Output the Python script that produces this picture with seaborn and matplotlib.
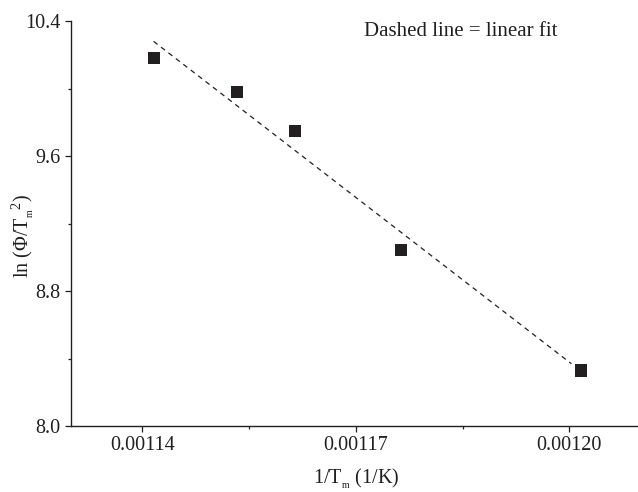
import numpy as np
import pandas as pd
import seaborn as sns
import matplotlib
matplotlib.use('Agg')
import matplotlib.pyplot as plt
from matplotlib.ticker import MultipleLocator, FormatStrFormatter

# 数据
inv_tm = [0.0011416, 0.0011533, 0.0011615, 0.0011764, 0.0012017]
ln_phi_tm2 = [10.179, 9.981, 9.748, 9.043, 8.329]
fit_range = [0.0011416, 0.0012003]
x_ticks = [0.00114, 0.00117, 0.00120]
y_ticks = [8.0, 8.8, 9.6, 10.4]

df = pd.DataFrame({'x': inv_tm, 'y': ln_phi_tm2})

sns.set_theme(style="ticks")
plt.rcParams['font.family'] = ['Liberation Serif', 'DejaVu Serif']
plt.rcParams['mathtext.fontset'] = 'custom'
plt.rcParams['mathtext.rm'] = 'Liberation Serif'
plt.rcParams['mathtext.it'] = 'Liberation Serif:italic'

fig = plt.figure(figsize=(6.38, 4.92), dpi=100)
ax = fig.add_axes([0.1113, 0.1341, 0.8926, 0.8232])

# 线性拟合
k, b = np.polyfit(df['x'], df['y'], 1)
fx = np.linspace(fit_range[0], fit_range[1], 50)
ax.plot(fx, k * fx + b, color='#231f20', lw=0.9, linestyle=(0, (4, 3.5)))

sns.scatterplot(data=df, x='x', y='y', marker='s', s=75, color='#231f20',
                edgecolor='none', ax=ax, zorder=3)

ax.set_xlim(0.00113, 0.00121)
ax.set_ylim(8.0, 10.4)
ax.set_xticks(x_ticks)
ax.set_yticks(y_ticks)
ax.xaxis.set_minor_locator(MultipleLocator(0.000015))
ax.yaxis.set_minor_locator(MultipleLocator(0.4))
ax.xaxis.set_major_formatter(FormatStrFormatter('%.5f'))
ax.yaxis.set_major_formatter(FormatStrFormatter('%.1f'))

for s in ['top', 'right']:
    ax.spines[s].set_visible(False)
for s in ['left', 'bottom']:
    ax.spines[s].set_linewidth(1.0)
    ax.spines[s].set_color('#231f20')
ax.tick_params(which='major', direction='out', length=4.5, width=0.9,
               labelsize=14.5, colors='#231f20', pad=3)
ax.tick_params(which='minor', direction='out', length=2.5, width=0.9,
               colors='#231f20')

ax.set_xlabel(r'1/T$_{_\mathrm{m}}$ (1/K)', fontsize=14.5, color='#231f20', labelpad=8)
ax.set_ylabel(r'ln ($\Phi$/T$_{_\mathrm{m}}$$^{\mathrm{2}}$)', fontsize=14.5,
              color='#231f20')
ax.yaxis.set_label_coords(-0.062, 0.47)

fig.text(0.5705, 0.9268, 'Dashed line = linear fit', fontsize=15,
         color='#231f20', va='baseline', ha='left')

fig.savefig('out.png', dpi=100)
